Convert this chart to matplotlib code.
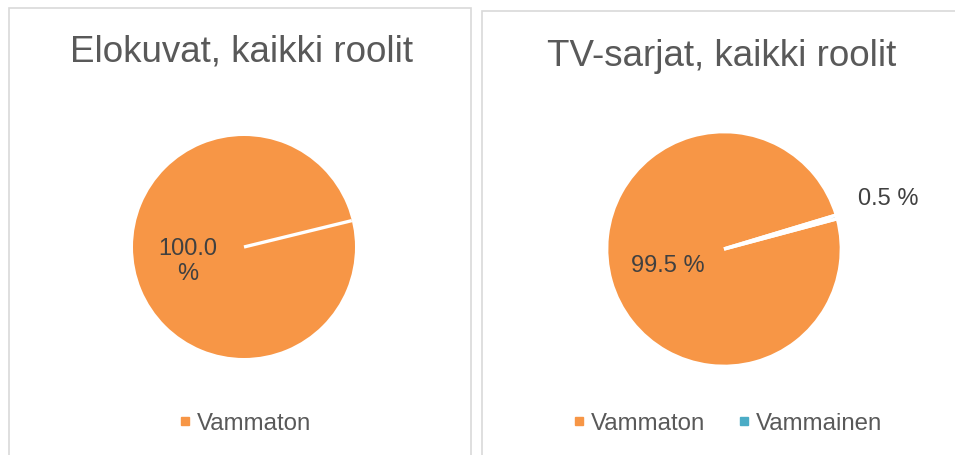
import numpy as np
import matplotlib
matplotlib.use("Agg")
import matplotlib.pyplot as plt
from matplotlib.patches import Rectangle
from matplotlib.lines import Line2D

plt.rcParams['font.family'] = ['Liberation Sans', 'DejaVu Sans']

# Data
titles = ["Elokuvat, kaikki roolit", "TV-sarjat, kaikki roolit"]
categories_left = ["Vammaton"]
values_left = [100.0]
categories_right = ["Vammaton", "Vammainen"]
values_right = [99.5, 0.5]

colors = {"Vammaton": "#F79646", "Vammainen": "#4BACC6"}
text_col = "#595959"
label_col = "#404040"

W, H = 955, 456
fig = plt.figure(figsize=(W / 100, H / 100), dpi=100)

def px_axes(cx, cy, r):
    return fig.add_axes([(cx - r) / W, (H - cy - r) / H, 2 * r / W, 2 * r / H])

# panel borders
fig.patches.append(Rectangle((9 / W, -0.1), (471 - 9) / W, (H - 9) / H + 0.1,
                             transform=fig.transFigure, fill=False,
                             edgecolor="#D9D9D9", lw=1.2))
fig.patches.append(Rectangle((482 / W, -0.1), 1.0, (H - 12) / H + 0.1,
                             transform=fig.transFigure, fill=False,
                             edgecolor="#D9D9D9", lw=1.2))

# ---- left pie
axL = px_axes(244, 248, 111)
startL = 13.75
wL, tL = axL.pie(values_left, colors=[colors[c] for c in categories_left],
                 startangle=startL, counterclock=False, radius=1.0,
                 wedgeprops=dict(edgecolor="none", linewidth=0))[:2]
a = np.deg2rad(startL)
axL.plot([0, np.cos(a)], [0, np.sin(a)], color="white", lw=2.4,
         solid_capstyle="butt")
for w, v in zip(wL, values_left):
    mid = np.deg2rad((w.theta1 + w.theta2) / 2)
    axL.text(0.52 * np.cos(mid), 0.52 * np.sin(mid), f"{v:.1f}\n%",
             ha="center", va="center", fontsize=17, color=label_col,
             linespacing=1.15)
axL.set_xlim(-1, 1); axL.set_ylim(-1, 1); axL.set_aspect("equal")
axL.axis("off")

# ---- right pie
axR = px_axes(724, 250, 116)
startR = 15.0
wR, tR = axR.pie(values_right, colors=[colors[c] for c in categories_right],
                 startangle=startR, counterclock=False, radius=1.012,
                 wedgeprops=dict(edgecolor="white", linewidth=2.5))[:2]
dists = [0.5, 1.48]
angle_adj = [0, 1.5]
for w, v, d, ad in zip(wR, values_right, dists, angle_adj):
    mid = np.deg2rad((w.theta1 + w.theta2) / 2 + ad)
    axR.text(d * np.cos(mid), d * np.sin(mid), f"{v:.1f} %",
             ha="center", va="center", fontsize=17, color=label_col)
axR.set_xlim(-1, 1); axR.set_ylim(-1, 1); axR.set_aspect("equal")
axR.axis("off")

# titles
fig.text(241 / W, 1 - 52 / H, titles[0], ha="center", va="center",
         fontsize=26.5, color=text_col)
fig.text(722 / W, 1 - 57 / H, titles[1], ha="center", va="center",
         fontsize=26.5, color=text_col)

# legends
def handles(cats):
    return [Line2D([], [], marker="s", linestyle="none", markersize=5.5,
                   markerfacecolor=colors[c], markeredgecolor=colors[c])
            for c in cats]

legL = fig.legend(handles(categories_left), categories_left, loc="center",
                  bbox_to_anchor=(246 / W, 1 - 424 / H), frameon=False,
                  fontsize=17.3, handlelength=0.4, handletextpad=0.3,
                  labelcolor=text_col, borderpad=0)
legR = fig.legend(handles(categories_right), categories_right, loc="center",
                  bbox_to_anchor=(728 / W, 1 - 424 / H), frameon=False,
                  fontsize=17.3, ncol=2, handlelength=0.4, handletextpad=0.3,
                  columnspacing=1.4, labelcolor=text_col, borderpad=0)

fig.savefig("out.png", dpi=100, facecolor="white")
